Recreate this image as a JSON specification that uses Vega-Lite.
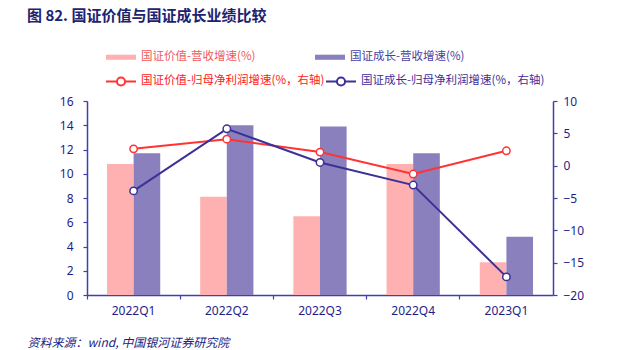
{
  "$schema": "https://vega.github.io/schema/vega-lite/v6.json",
  "width": 466,
  "height": 194,
  "autosize": {"type": "none"},
  "padding": {"left": 87, "top": 101, "right": 80, "bottom": 55},
  "background": "white",
  "title": {
    "text": "图  82. 国证价值与国证成长业绩比较",
    "anchor": "start",
    "frame": "group",
    "dx": -60,
    "fontSize": 15,
    "font": "Noto Sans CJK SC",
    "fontWeight": "bold",
    "color": "#1c2370",
    "offset": 17
  },
  "config": {
    "view": {"stroke": null},
    "font": "Noto Sans CJK SC",
    "axis": {
      "domainColor": "#3f3fb0",
      "tickColor": "#3f3fb0",
      "labelColor": "#1e1e88",
      "labelFont": "Noto Sans",
      "labelFontSize": 12,
      "grid": false,
      "domainWidth": 1.5,
      "tickWidth": 1.2,
      "tickSize": 4
    }
  },
  "datasets": {
    "bars": [
      {"q": "2022Q1", "s": "国证价值-营收增速(%)", "v": 10.8},
      {"q": "2022Q1", "s": "国证成长-营收增速(%)", "v": 11.7},
      {"q": "2022Q2", "s": "国证价值-营收增速(%)", "v": 8.1},
      {"q": "2022Q2", "s": "国证成长-营收增速(%)", "v": 14.0},
      {"q": "2022Q3", "s": "国证价值-营收增速(%)", "v": 6.5},
      {"q": "2022Q3", "s": "国证成长-营收增速(%)", "v": 13.9},
      {"q": "2022Q4", "s": "国证价值-营收增速(%)", "v": 10.8},
      {"q": "2022Q4", "s": "国证成长-营收增速(%)", "v": 11.7},
      {"q": "2023Q1", "s": "国证价值-营收增速(%)", "v": 2.7},
      {"q": "2023Q1", "s": "国证成长-营收增速(%)", "v": 4.8}
    ],
    "lines": [
      {"q": "2022Q1", "s": "国证价值-归母净利润增速(%，右轴)", "v": 2.6},
      {"q": "2022Q2", "s": "国证价值-归母净利润增速(%，右轴)", "v": 4.1},
      {"q": "2022Q3", "s": "国证价值-归母净利润增速(%，右轴)", "v": 2.1},
      {"q": "2022Q4", "s": "国证价值-归母净利润增速(%，右轴)", "v": -1.3},
      {"q": "2023Q1", "s": "国证价值-归母净利润增速(%，右轴)", "v": 2.3},
      {"q": "2022Q1", "s": "国证成长-归母净利润增速(%，右轴)", "v": -3.9},
      {"q": "2022Q2", "s": "国证成长-归母净利润增速(%，右轴)", "v": 5.7},
      {"q": "2022Q3", "s": "国证成长-归母净利润增速(%，右轴)", "v": 0.5},
      {"q": "2022Q4", "s": "国证成长-归母净利润增速(%，右轴)", "v": -3.0},
      {"q": "2023Q1", "s": "国证成长-归母净利润增速(%，右轴)", "v": -17.2}
    ]
  },
  "layer": [
    {
      "data": {"name": "bars"},
      "mark": {"type": "bar"},
      "encoding": {
        "x": {
          "field": "q", "type": "nominal", "sort": null,
          "scale": {"paddingInner": 0, "paddingOuter": 0},
          "axis": {
            "labelAngle": 0,
            "bandPosition": 0,
            "labelPadding": 6,
            "title": "资料来源：wind, 中国银河证券研究院",
            "titleFont": "Noto Sans CJK SC",
            "titleFontStyle": "italic",
            "titleFontWeight": "normal",
            "titleFontSize": 12,
            "titleColor": "#1a2480",
            "titleAnchor": "start",
            "titleAlign": "left",
            "titleBaseline": "middle",
            "titleX": -60,
            "titleY": 47
          }
        },
        "xOffset": {
          "field": "s", "type": "nominal",
          "sort": ["国证价值-营收增速(%)", "国证成长-营收增速(%)"],
          "scale": {"paddingInner": 0, "paddingOuter": 0.75}
        },
        "y": {
          "field": "v", "type": "quantitative",
          "scale": {"domain": [0, 16], "nice": false},
          "axis": {"values": [0, 2, 4, 6, 8, 10, 12, 14, 16], "title": null, "labelPadding": 10}
        },
        "fill": {
          "field": "s", "type": "nominal",
          "scale": {
            "domain": ["国证价值-营收增速(%)", "国证成长-营收增速(%)"],
            "range": ["#ffb1b1", "#8a80bd"]
          },
          "legend": {
            "orient": "none",
            "legendX": 18,
            "legendY": -60,
            "direction": "horizontal",
            "columns": 2,
            "columnPadding": 58,
            "title": null,
            "symbolType": "M-1,-0.17H1V0.17H-1Z",
            "symbolSize": 900,
            "labelFontSize": 11.5,
            "labelLimit": 400,
            "labelFont": "Noto Sans CJK SC",
            "encode": {
              "labels": {"update": {"fill": {"signal": "datum.value === '国证价值-营收增速(%)' ? '#f05a5a' : '#4a40a0'"}}}
            }
          }
        }
      }
    },
    {
      "data": {"name": "lines"},
      "encoding": {
        "x": {"field": "q", "type": "nominal", "sort": null},
        "y": {
          "field": "v", "type": "quantitative",
          "scale": {"domain": [-20, 10], "nice": false},
          "axis": {"orient": "right", "values": [-20, -15, -10, -5, 0, 5, 10], "title": null, "labelPadding": 6}
        },
        "stroke": {
          "field": "s", "type": "nominal",
          "scale": {
            "domain": ["国证价值-归母净利润增速(%，右轴)", "国证成长-归母净利润增速(%，右轴)"],
            "range": ["#ff3333", "#3c3196"]
          },
          "legend": {
            "orient": "none",
            "legendX": 18,
            "legendY": -36,
            "direction": "horizontal",
            "columns": 2,
            "columnPadding": -12,
            "title": null,
            "symbolType": "M-1,0H-0.27M0.27,0H1M-0.27,0A0.27,0.27 0 1,1 0.27,0A0.27,0.27 0 1,1 -0.27,0",
            "symbolSize": 900,
            "symbolStrokeWidth": 2,
            "labelFontSize": 11.5,
            "labelLimit": 400,
            "labelFont": "Noto Sans CJK SC",
            "encode": {
              "symbols": {"update": {"fill": {"value": "white"}}},
              "labels": {"update": {"fill": {"signal": "datum.value === '国证价值-归母净利润增速(%，右轴)' ? '#ff2020' : '#3c2f9a'"}}}
            }
          }
        }
      },
      "layer": [
        {"mark": {"type": "line", "strokeWidth": 2}},
        {"mark": {"type": "point", "shape": "circle", "filled": true, "fill": "white", "size": 55, "strokeWidth": 1.5, "opacity": 1}}
      ]
    }
  ],
  "resolve": {"scale": {"y": "independent"}, "axis": {"y": "independent"}}
}
